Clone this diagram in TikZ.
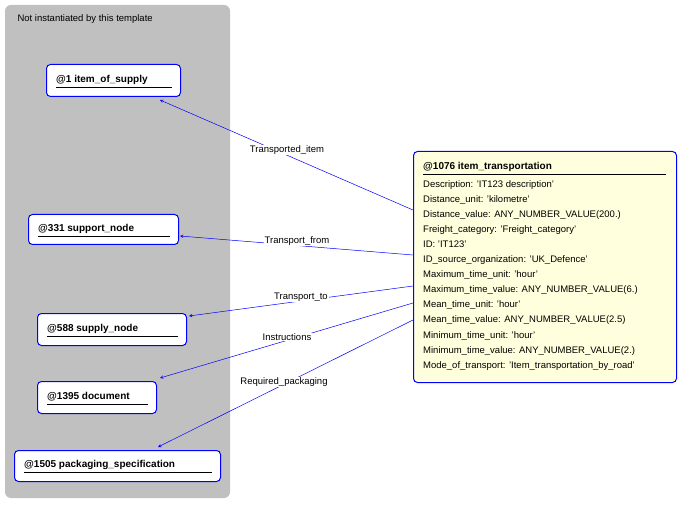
\documentclass[tikz,border=0pt]{standalone}
\usepackage{fontspec}
\setmainfont{Liberation Sans}
\usetikzlibrary{positioning}
\definecolor{panelgray}{RGB}{192,192,192}
\definecolor{boxyellow}{RGB}{255,255,221}
\tikzset{
  ent/.style={draw=blue, line width=1pt, rounded corners=4pt, fill=white, anchor=north west,
    inner sep=0pt, font=\fontsize{10}{11}\selectfont\bfseries},
  etext/.style={anchor=west, inner sep=0pt, font=\fontsize{10}{11}\selectfont\bfseries},
  rel/.style={->, >=stealth, draw=blue, line width=0.5pt},
  lbl/.style={fill=white, inner sep=1pt, font=\fontsize{9.5}{11}\selectfont}
}
\begin{document}
\begin{tikzpicture}[x=1pt, y=-1pt]
  \useasboundingbox (0,0) rectangle (699,505);
  \fill[panelgray, rounded corners=6pt] (5,5) rectangle (230,498);
  \node[anchor=west, font=\fontsize{9.5}{11}\selectfont] (note) at (14,19) {Not instantiated by this template};

  \node[ent, minimum width=134pt, minimum height=32pt] (supply) at (46,64) {};
  \node[etext] at (56,80) {@1 item\_of\_supply};
  \draw (56,87) -- (172,87);
  \node[ent, minimum width=150pt, minimum height=30pt] (support) at (28,214) {};
  \node[etext] at (38,229) {@331 support\_node};
  \draw (38,236) -- (170,236);
  \node[ent, minimum width=149pt, minimum height=32pt] (snode) at (37,313) {};
  \node[etext] at (47,329) {@588 supply\_node};
  \draw (47,336) -- (178,336);
  \node[ent, minimum width=119pt, minimum height=32pt] (doc) at (37,381) {};
  \node[etext] at (47,397) {@1395 document};
  \draw (47,404) -- (148,404);
  \node[ent, minimum width=206pt, minimum height=31pt] (pack) at (14,450) {};
  \node[etext] at (24,465) {@1505 packaging\_specification};
  \draw (24,472) -- (212,472);

  \node[ent, fill=boxyellow, minimum width=263pt, minimum height=231pt] (trans) at (413,151) {};
  \node[etext] (title) at (423,167) {@1076 item\_transportation};
  \draw (423,174) -- (666,174);
  \node[anchor=north west, align=left, inner sep=0pt, font=\fontsize{9.5}{15.1}\selectfont] (attrs) at (423,180) {%
    Description: 'IT123 description'\\
    Distance\_unit: 'kilometre'\\
    Distance\_value: ANY\_NUMBER\_VALUE(200.)\\
    Freight\_category: 'Freight\_category'\\
    ID: 'IT123'\\
    ID\_source\_organization: 'UK\_Defence'\\
    Maximum\_time\_unit: 'hour'\\
    Maximum\_time\_value: ANY\_NUMBER\_VALUE(6.)\\
    Mean\_time\_unit: 'hour'\\
    Mean\_time\_value: ANY\_NUMBER\_VALUE(2.5)\\
    Minimum\_time\_unit: 'hour'\\
    Minimum\_time\_value: ANY\_NUMBER\_VALUE(2.)\\
    Mode\_of\_transport: 'Item\_transportation\_by\_road'};

  \coordinate (s1) at (413,210);
  \coordinate (s2) at (413,255);
  \coordinate (s3) at (413,286);
  \coordinate (s4) at (413,303);
  \coordinate (s5) at (413,320);
  \coordinate (e1) at (160,100);
  \coordinate (e2) at (180,236);
  \coordinate (e3) at (189,316);
  \coordinate (e4) at (160,378);
  \coordinate (e5) at (158,447);

  \draw[rel] (s1) -- (e1);
  \draw[rel] (s2) -- (e2);
  \draw[rel] (s3) -- (e3);
  \draw[rel] (s4) -- (e4);
  \draw[rel] (s5) -- (e5);

  \node[lbl] (l1) at (287,150) {Transported\_item};
  \node[lbl] (l2) at (297,241) {Transport\_from};
  \node[lbl] (l3) at (301,297) {Transport\_to};
  \node[lbl] (l4) at (287,337) {Instructions};
  \node[lbl] (l5) at (284,382) {Required\_packaging};
\end{tikzpicture}
\end{document}
